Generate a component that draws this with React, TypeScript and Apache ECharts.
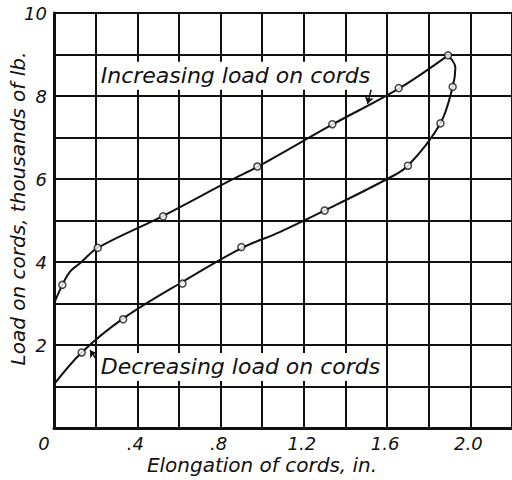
import React, { useEffect, useRef } from "react";
import * as echarts from "echarts";

// Curves (elongation in., load thousands lb.)
const increasingCurveX = [0, 0.04, 0.077, 0.125, 0.21, 0.52, 0.845, 0.98, 1.34, 1.66, 1.893];
const increasingCurveY = [3.0, 3.45, 3.77, 3.97, 4.34, 5.1, 5.96, 6.3, 7.32, 8.19, 8.98];
const decreasingCurveX = [1.893, 1.928, 1.915, 1.856, 1.7, 1.6, 1.3, 1.084, 0.903, 0.62, 0.333, 0.133, 0];
const decreasingCurveY = [8.98, 8.68, 8.22, 7.34, 6.32, 6.0, 5.24, 4.72, 4.34, 3.53, 2.64, 1.82, 1.05];

// Plotted observation circles
const increasingPointsX = [0.04, 0.21, 0.524, 0.977, 1.337, 1.656, 1.893];
const increasingPointsY = [3.45, 4.34, 5.1, 6.3, 7.32, 8.19, 8.98];
const decreasingPointsX = [1.915, 1.856, 1.7, 1.3, 0.9, 0.617, 0.332, 0.133];
const decreasingPointsY = [8.22, 7.34, 6.32, 5.24, 4.36, 3.48, 2.62, 1.82];

const xTickValues = [0, 0.4, 0.8, 1.2, 1.6, 2.0];
const xTickLabels = ["0", ".4", ".8", "1.2", "1.6", "2.0"];
const yTickValues = [2, 4, 6, 8, 10];
const yTickLabels = ["2", "4", "6", "8", "10"];

const xTitle = "Elongation of cords, in.";
const yTitle = "Load on cords, thousands of lb.";
const increasingLabel = "Increasing load on cords";
const decreasingLabel = "Decreasing load on cords";

const FONT = "DejaVu Sans";
const INK = "#111";

const zip = (xs: number[], ys: number[]) => xs.map((x, i) => [x, ys[i]]);

export default function App() {
  const ref = useRef<HTMLDivElement>(null);
  useEffect(() => {
    document.body.style.margin = "0";
    const chart = echarts.init(ref.current!, undefined, { renderer: "svg" });
    const labelFor = (vals: number[], labs: string[]) => (v: number) => {
      const i = vals.findIndex((t) => Math.abs(t - v) < 1e-6);
      if (i < 0) return "";
      return i === 0 ? `{first|${labs[i]}}` : `{n|${labs[i]}}`;
    };
    const textStyle = { fontFamily: FONT, fontStyle: "italic" as const, color: INK };
    chart.setOption({
      animation: false,
      backgroundColor: "#fff",
      grid: { left: 54, right: 0, top: 13, bottom: 52, containLabel: false, outerBoundsMode: "none" },
      xAxis: {
        type: "value",
        min: 0,
        max: 2.2,
        interval: 0.2,
        axisLine: { show: true, onZero: false, lineStyle: { color: INK, width: 3 } },
        axisTick: { show: false },
        splitLine: { show: true, lineStyle: { color: INK, width: 2 } },
        axisLabel: {
          ...textStyle,
          fontSize: 18,
          margin: 6,
          lineHeight: 18,
          formatter: labelFor(xTickValues, xTickLabels),
          showMaxLabel: false,
          rich: {
            first: { ...textStyle, fontSize: 18, lineHeight: 18, padding: [0, 20, 0, 0] },
            n: { ...textStyle, fontSize: 18, lineHeight: 18, padding: [0, 4, 0, 0] },
          },
        },
        name: xTitle,
        nameLocation: "middle",
        nameGap: 27,
        nameMoveOverlap: false,
        nameTextStyle: { ...textStyle, fontSize: 20, lineHeight: 20, padding: [0, 42, 0, 0] },
      },
      yAxis: {
        type: "value",
        min: 0,
        max: 10,
        interval: 1,
        axisLine: { show: true, lineStyle: { color: INK, width: 3 } },
        axisTick: { show: false },
        splitLine: { show: true, lineStyle: { color: INK, width: 2 } },
        axisLabel: {
          ...textStyle,
          fontSize: 18,
          margin: 7,
          formatter: (v: number) => {
            const i = yTickValues.findIndex((t) => Math.abs(t - v) < 1e-6);
            return i >= 0 ? yTickLabels[i] : "";
          },
        },
        name: yTitle,
        nameLocation: "middle",
        nameGap: 26,
        nameMoveOverlap: false,
        nameRotate: 90,
        nameTextStyle: { ...textStyle, fontSize: 20, padding: [0, 0, 0, 24] },
      },
      series: [
        {
          type: "line",
          data: zip(increasingCurveX, increasingCurveY),
          smooth: 0.35,
          symbol: "none",
          lineStyle: { color: INK, width: 2 },
          z: 3,
          markLine: {
            silent: true,
            symbol: ["none", "arrow"],
            symbolSize: 7,
            label: { show: false },
            lineStyle: { color: INK, width: 1.5, type: "solid" },
            data: [
              [{ coord: [1.53, 8.29] }, { coord: [1.506, 7.81] }],
              [{ coord: [0.2, 1.68] }, { coord: [0.173, 1.875] }],
            ],
          },
        },
        {
          type: "line",
          data: zip(decreasingCurveX, decreasingCurveY),
          smooth: 0.35,
          symbol: "none",
          lineStyle: { color: INK, width: 2 },
          z: 3,
        },
        {
          type: "scatter",
          data: zip(increasingPointsX, increasingPointsY).concat(zip(decreasingPointsX, decreasingPointsY)),
          symbol: "circle",
          symbolSize: 7,
          itemStyle: { color: "#fff", borderColor: INK, borderWidth: 1.5 },
          z: 5,
        },
      ],
    });
    const p1 = chart.convertToPixel({ gridIndex: 0 }, [0.21, 8.49]) as number[];
    const p2 = chart.convertToPixel({ gridIndex: 0 }, [0.21, 1.47]) as number[];
    const mk = (p: number[], text: string) => ({
      type: "text",
      x: p[0],
      y: p[1],
      z: 10,
      style: {
        text,
        fill: INK,
        font: `italic 22px "${FONT}"`,
        textVerticalAlign: "middle",
        textAlign: "left",
        backgroundColor: "#fff",
        padding: [3, 4, 3, 3],
      },
    });
    chart.setOption({ graphic: [mk(p1, increasingLabel), mk(p2, decreasingLabel)] });
    return () => chart.dispose();
  }, []);
  return <div ref={ref} style={{ width: 512, height: 480 }} />;
}
